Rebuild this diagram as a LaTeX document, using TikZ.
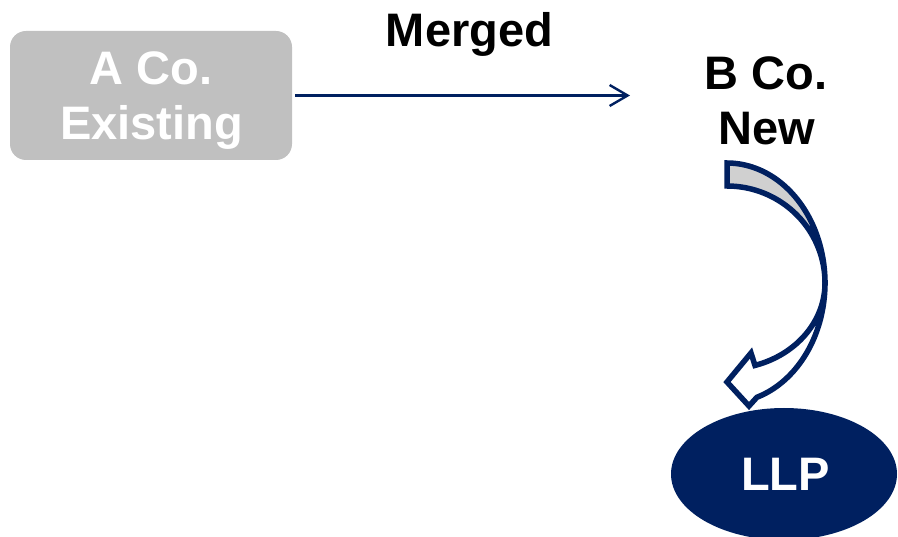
\documentclass[tikz,border=0pt]{standalone}
\usepackage{fontspec}
\setmainfont{Liberation Sans}
\usetikzlibrary{arrows.meta,shapes.geometric}
\definecolor{navy}{HTML}{002060}
\definecolor{boxgray}{HTML}{C0C0C0}
\definecolor{backgray}{HTML}{D0D0D0}

\begin{document}
\begin{tikzpicture}[x=1pt,y=-1pt,
  lbl/.style={font=\fontsize{47}{55}\selectfont\bfseries, anchor=base, inner sep=0pt},
  company/.style={fill=boxgray, rounded corners=16pt, minimum width=282pt, minimum height=129pt},
  flow/.style={navy, line width=2.2pt, -{Straight Barb[length=18pt,width=21pt,line width=2.4pt]}},
  ribbon/.style={draw=navy, line width=5.5pt, line join=miter},
  entity/.style={ellipse, fill=navy, text=white, minimum width=226pt, minimum height=132pt,
                 font=\fontsize{47}{55}\selectfont\bfseries}]
\useasboundingbox (0,0) rectangle (898,537);

% existing company box
\node[company] (boxA) at (151,95.5) {};
\node[lbl, text=white] (aco) at (151,85) {A Co.};
\node[lbl, text=white] (aexist) at (151.5,140) {Existing};

% merger arrow
\coordinate (bIn) at (630,95.5);
\draw[flow, shorten <=3pt] (boxA.east) -- (bIn);
\node[lbl] (merged) at (469.5,47) {Merged};

% new company
\node[lbl] (bco) at (766,90) {B Co.};
\node[lbl] (bnew) at (766.5,145) {New};

% curved arrow: back face of the ribbon
\filldraw[ribbon, fill=backgray]
  plot[domain=90:0, samples=50, variable=\t] ({727+98*cos(\t)},{283-120*sin(\t)})
  -- plot[domain=0:90, samples=50, variable=\t] ({727+98*cos(\t)},{283-97*sin(\t)})
  -- cycle;
% curved arrow: front face with head
\filldraw[ribbon, fill=white]
  plot[domain=0:-72.2, samples=50, variable=\t] ({727+98*cos(\t)},{283-120*sin(\t)})
  -- (749,406) -- (727,382) -- (751,353)
  -- plot[domain=-73.4:0, samples=50, variable=\t] ({727+98*cos(\t)},{283-86*sin(\t)})
  -- cycle;

% resulting entity
\node[entity] (llp) at (784,474) {\hspace*{3pt}LLP};
\end{tikzpicture}
\end{document}
